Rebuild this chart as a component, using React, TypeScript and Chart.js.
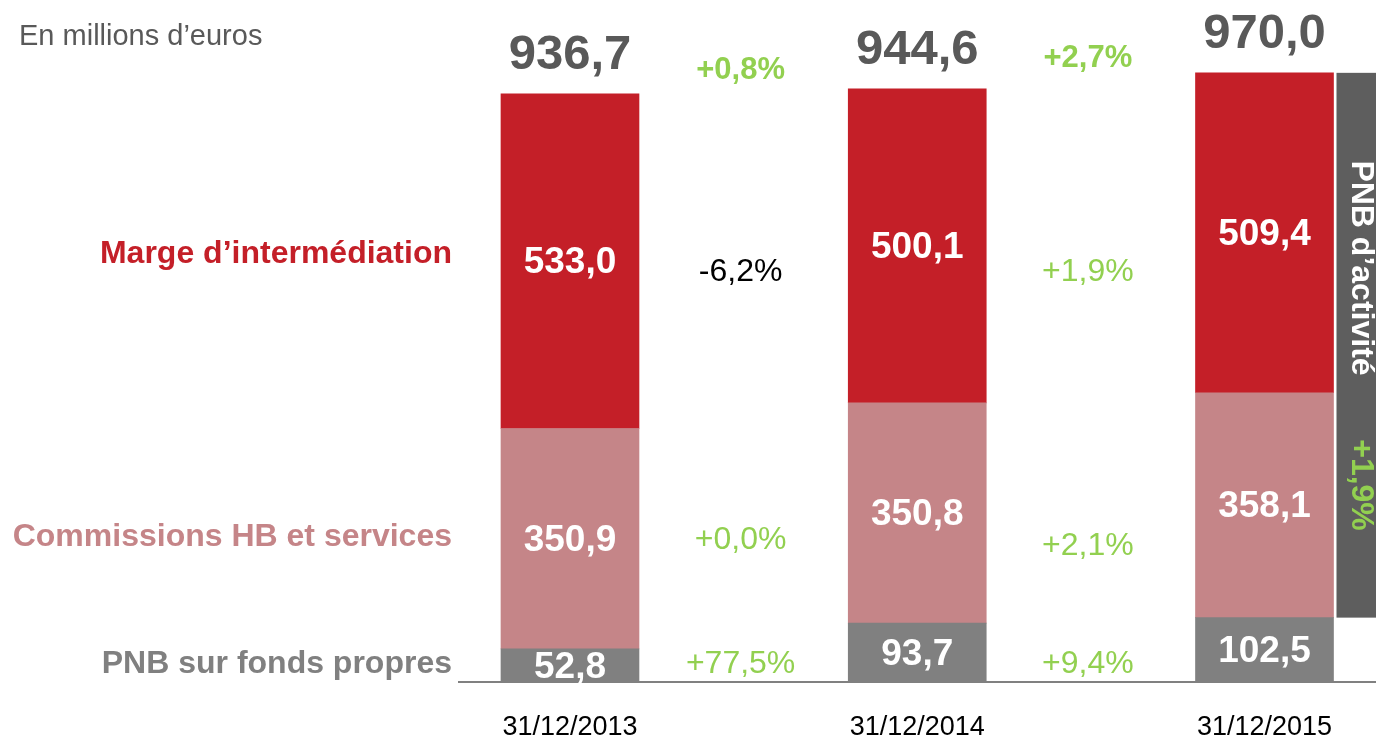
import { useEffect, useRef } from 'react';
import { Chart, registerables } from 'chart.js';
Chart.register(...registerables);

const categories = ['31/12/2013', '31/12/2014', '31/12/2015'];
const fondsPropres = [52.8, 93.7, 102.5];
const commissions = [350.9, 350.8, 358.1];
const marge = [533.0, 500.1, 509.4];
const totals = [936.7, 944.6, 970.0];
const evolTotal = ['+0,8%', '+2,7%'];
const evolMarge = ['-6,2%', '+1,9%'];
const evolCommissions = ['+0,0%', '+2,1%'];
const evolFondsPropres = ['+77,5%', '+9,4%'];
const seriesNames = ['PNB sur fonds propres', 'Commissions HB et services', 'Marge d’intermédiation'];
const activityLabel = 'PNB d’activité';
const activityEvol = '+1,9%';
const unitLabel = 'En millions d’euros';

const FONT = '"Liberation Sans", Arial, Helvetica, sans-serif';
const RED = '#C41F28';
const PINK = '#C58588';
const GRAY = '#808080';
const DARK = '#5E5E5E';
const GREEN = '#92D050';

const fmt = (v: number) => v.toFixed(1).replace('.', ',');

const overlay = {
  id: 'overlay',
  afterDatasetsDraw(chart: any) {
    const ctx = chart.ctx;
    const { left, right, bottom } = chart.chartArea;
    const yScale = chart.scales.y;
    ctx.save();
    // axis line
    ctx.strokeStyle = GRAY;
    ctx.lineWidth = 2;
    ctx.beginPath();
    ctx.moveTo(left, bottom);
    ctx.lineTo(right, bottom);
    ctx.stroke();

    // values in segments
    ctx.textAlign = 'center';
    ctx.textBaseline = 'middle';
    ctx.fillStyle = '#FFFFFF';
    ctx.font = `bold 37px ${FONT}`;
    chart.data.datasets.forEach((ds: any, di: number) => {
      const meta = chart.getDatasetMeta(di);
      meta.data.forEach((el: any, i: number) => {
        const v = ds.data[i].y;
        ctx.fillText(fmt(v), el.x, (el.y + el.base) / 2 + 2);
      });
    });

    const topMeta = chart.getDatasetMeta(2);
    const bars = topMeta.data;
    // totals
    ctx.fillStyle = '#595959';
    ctx.font = `bold 49px ${FONT}`;
    bars.forEach((el: any, i: number) => {
      ctx.fillText(fmt(totals[i]), el.x, yScale.getPixelForValue(totals[i]) - 38);
    });

    // dates
    ctx.fillStyle = '#000000';
    ctx.font = `27px ${FONT}`;
    bars.forEach((el: any, i: number) => {
      ctx.fillText(categories[i], el.x, 728);
    });

    // evolutions between bars
    const rows: [string[], number[], boolean][] = [
      [evolTotal, [70, 58], true],
      [evolMarge, [272, 272], false],
      [evolCommissions, [540, 546], false],
      [evolFondsPropres, [664, 664], false],
    ];
    rows.forEach(([labels, ys, bold]) => {
      labels.forEach((t, i) => {
        const x = (bars[i].x + bars[i + 1].x) / 2 - 3;
        ctx.font = `${bold ? 'bold 31px' : '32px'} ${FONT}`;
        ctx.fillStyle = t.startsWith('-') ? '#000000' : GREEN;
        ctx.fillText(t, x, ys[i]);
      });
    });

    // left series labels
    ctx.textAlign = 'right';
    ctx.font = `bold 32px ${FONT}`;
    const leftYs = [664, 537, 254];
    const leftColors = [GRAY, PINK, RED];
    seriesNames.forEach((n, i) => {
      ctx.fillStyle = leftColors[i];
      ctx.fillText(n, 452, leftYs[i]);
    });

    // unit label
    ctx.textAlign = 'left';
    ctx.fillStyle = '#595959';
    ctx.font = `29px ${FONT}`;
    ctx.fillText(unitLabel, 19, 37);

    // right panel: PNB d'activité = marge + commissions of last bar
    const last = bars[bars.length - 1];
    const px0 = last.x + last.width / 2 + 3;
    const py0 = yScale.getPixelForValue(totals[2]);
    const py1 = yScale.getPixelForValue(fondsPropres[2]);
    ctx.fillStyle = DARK;
    ctx.fillRect(px0, py0, right - px0, py1 - py0);
    ctx.translate(1361, 0);
    ctx.rotate(Math.PI / 2);
    ctx.textAlign = 'center';
    ctx.textBaseline = 'middle';
    ctx.fillStyle = '#FFFFFF';
    ctx.font = `bold 32px ${FONT}`;
    ctx.fillText(activityLabel, 268, 0);
    ctx.fillStyle = GREEN;
    ctx.fillText(activityEvol, 485, 0);
    ctx.restore();
  },
};

export default function App() {
  const ref = useRef<HTMLCanvasElement>(null);
  useEffect(() => {
    const toPts = (arr: number[]) => arr.map((v, i) => ({ x: i, y: v }));
    const chart = new Chart(ref.current!, {
      type: 'bar',
      data: {
        datasets: [
          { label: seriesNames[0], data: toPts(fondsPropres) as any, backgroundColor: GRAY },
          { label: seriesNames[1], data: toPts(commissions) as any, backgroundColor: PINK },
          { label: seriesNames[2], data: toPts(marge) as any, backgroundColor: RED },
        ],
      },
      options: {
        responsive: false,
        animation: false,
        barThickness: 138,
        borderWidth: 0,
        layout: { padding: { left: 458, right: 0, top: 54, bottom: 59 } },
        plugins: { legend: { display: false }, tooltip: { enabled: false } },
        scales: {
          x: { type: 'linear', stacked: true, display: false, offset: false, min: -0.3225, max: 2.3211 },
          y: { stacked: true, display: false, min: 0, max: 1000 },
        },
      } as any,
      plugins: [overlay],
    });
    return () => chart.destroy();
  }, []);
  return (
    <div style={{ position: 'absolute', left: 0, top: 0, width: 1376, height: 741, background: '#fff' }}>
      <canvas ref={ref} width={1376} height={741} />
    </div>
  );
}
